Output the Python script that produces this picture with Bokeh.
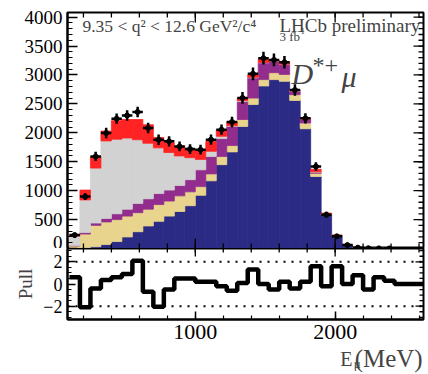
import numpy as np
from bokeh.plotting import figure
from bokeh.layouts import column
from bokeh.models import ColumnDataSource, Range1d, FixedTicker, Span, Label
from bokeh.embed import file_html
from bokeh.resources import INLINE

# ---------------- data ----------------
bin_start = 100.0      # MeV, lower edge of first bin
bin_width = 75.0       # MeV
n_bins = 34

# stacked components (bottom -> top), events per bin
comp_blue = [5, 15, 30, 70, 120, 200, 290, 390, 470, 560, 640, 740, 920, 1170, 1450, 1670, 2110,
             2490, 2810, 2920, 2890, 2560, 2070, 1245, 580, 220, 66, 16, 5, 2, 1, 0, 0, 0]
comp_khaki = [40, 235, 370, 390, 380, 360, 330, 290, 290, 260, 270, 240, 150, 120, 140, 110, 120,
              110, 110, 120, 120, 100, 100, 55, 15, 5, 2, 1, 0, 0, 0, 0, 0, 0]
comp_purple = [5, 25, 40, 60, 100, 120, 160, 180, 190, 190, 180, 210, 290, 300, 310, 330, 310,
               350, 290, 200, 170, 60, 60, 20, 10, 3, 1, 0, 0, 0, 0, 0, 0, 0]
comp_grey = [165, 565, 950, 1340, 1290, 1230, 1100, 960, 790, 650, 510, 380, 180, 90, 40, 10, 15,
             10, 5, 5, 5, 5, 5, 5, 2, 1, 0, 0, 0, 0, 0, 0, 0, 0]
comp_red = [20, 170, 200, 170, 320, 320, 350, 320, 180, 170, 170, 150, 160, 170, 110, 70, 45,
            40, 55, 15, 35, 15, 15, 45, 3, 1, 1, 0, 0, 0, 0, 0, 0, 0]

data_counts = [232, 897, 1592, 1997, 2245, 2300, 2360, 2084, 1881, 1852, 1765, 1719, 1708, 1882,
               2055, 2187, 2604, 3020, 3290, 3260, 3220, 2740, 2250, 1418, 585, 210, 59, 15, 5, 2,
               1, 0, 0, 0]
data_err = [40, 60, 80, 90, 90, 90, 90, 90, 90, 90, 85, 85, 85, 90, 90, 90, 100, 110, 110, 110,
            110, 100, 90, 75, 50, 30, 15, 8, 5, 3, 2, 0, 0, 0]

pulls = [0.6, -2.1, -0.4, 0.35, 0.6, 0.9, 2.1, -0.7, -2.05, -0.5, 0.5, 0.5, 0.2, 0.2, -0.2, -0.6,
         0.1, 1.3, 0.0, -0.5, 0.2, -0.4, 0.2, 1.6, -0.2, 1.6, 0.0, 0.8, -0.5, 0.6, 0.3, 0.0, 0.0, 0.0]

y_ticks = [0, 500, 1000, 1500, 2000, 2500, 3000, 3500, 4000]
y_minor = list(range(0, 4100, 100))
x_ticks = [1000, 2000]
x_minor = list(range(200, 2700, 200))
pull_ticks = [-2, 0, 2]
pull_minor = [v / 2 for v in range(-6, 7)]

colors = ["#2b2b86", "#e8d48c", "#922d8e", "#d2d2d2", "#ff2323"]

# ---------------- helpers ----------------
edges = bin_start + bin_width * np.arange(n_bins + 1)
left = edges[:-1]
right = edges[1:]
centers = 0.5 * (left + right)

X0, X1 = 86, 2632
Y_TOP = 4080
P_LO, P_HI = -3.2, 3.2
SERIF = "Liberation Serif"

common = dict(output_backend="svg", toolbar_location=None, x_range=Range1d(X0, X1),
              width=428, min_border_left=67, min_border_right=5)


def frame_style(fig):
    fig.grid.visible = False
    fig.background_fill_color = "white"
    fig.border_fill_color = "white"
    fig.outline_line_color = "black"
    fig.outline_line_width = 2


def style_axis(ax, ticks, minor, tin, tmin, fs):
    ax.ticker = FixedTicker(ticks=ticks, minor_ticks=minor)
    ax.major_tick_in = tin
    ax.major_tick_out = 0
    ax.minor_tick_in = tmin
    ax.minor_tick_out = 0
    ax.axis_line_color = "black"
    ax.axis_line_width = 2
    ax.major_tick_line_width = 1.5
    ax.minor_tick_line_width = 1.2
    ax.major_label_text_font = SERIF
    ax.major_label_text_font_size = fs
    ax.major_label_text_color = "black"
    ax.major_label_standoff = 5


def inward_ticks(fig, xs, ys, angle, length):
    fig.ray(x=xs, y=ys, length=length, length_units="screen", angle=angle,
            angle_units="deg", line_color="black", line_width=1.3)


def text(fig, x, y, s, size, align="left", style="normal"):
    fig.add_layout(Label(x=x, y=y, text=s, text_font=SERIF, text_font_size=size,
                         text_font_style=style, text_baseline="middle", text_align=align))

# ---------------- top panel ----------------
p = figure(height=248, y_range=Range1d(0, Y_TOP), min_border_top=12, min_border_bottom=0,
           **common)
frame_style(p)
p.xaxis.visible = False

bottoms = np.zeros(n_bins)
for comp, col in zip([comp_blue, comp_khaki, comp_purple, comp_grey, comp_red], colors):
    tops = bottoms + np.array(comp, dtype=float)
    src = ColumnDataSource(dict(left=left, right=right, bottom=bottoms.copy(), top=tops))
    p.quad(left="left", right="right", bottom="bottom", top="top", source=src,
           fill_color=col, line_color=col, line_width=0.8)
    bottoms = tops

d = np.array(data_counts, dtype=float)
e = np.array(data_err, dtype=float)
mask = d > 0
dsrc = ColumnDataSource(dict(l=left[mask], r=right[mask], c=centers[mask], y=d[mask],
                             lo=(d - e)[mask], hi=(d + e)[mask]))
p.segment(x0="l", x1="r", y0="y", y1="y", source=dsrc, line_color="black", line_width=2.5)
p.segment(x0="c", x1="c", y0="lo", y1="hi", source=dsrc, line_color="black", line_width=2.5)
p.scatter(x="c", y="y", source=dsrc, size=5, color="black")

style_axis(p.yaxis[0], y_ticks, y_minor, 10, 5, "19px")
inward_ticks(p, x_minor, [0] * len(x_minor), 90, 5)
inward_ticks(p, x_ticks, [0] * len(x_ticks), 90, 10)
inward_ticks(p, x_minor, [Y_TOP] * len(x_minor), -90, 5)
inward_ticks(p, x_ticks, [Y_TOP] * len(x_ticks), -90, 10)
inward_ticks(p, [X1] * len(y_minor), y_minor, 180, 5)
inward_ticks(p, [X1] * len(y_ticks), y_ticks, 180, 10)

# texts
text(p, 193, 3855, "9.35 < q² < 12.6 GeV²/c⁴", "17.5px")
text(p, 1602, 3855, "LHCb preliminary", "19px")
text(p, 1602, 3665, "3 fb", "13px")
text(p, 1731, 3760, "-1", "9px")
text(p, 1688, 3034, "D", "30px", style="italic")
text(p, 1838, 3164, "*+", "24px")
text(p, 2046, 2973, "μ", "30px", style="italic")

# ---------------- pull panel ----------------
pb = figure(height=100, y_range=Range1d(P_LO, P_HI), min_border_top=0, min_border_bottom=29,
            **common)
frame_style(pb)

for lev in (2, -2):
    pb.add_layout(Span(location=lev, dimension="width", line_color="black",
                       line_dash="2 6", line_width=2))

pull_y = np.append(np.array(pulls, dtype=float), pulls[-1])
pb.step(x=edges, y=pull_y, mode="after", line_color="black", line_width=4.5)

style_axis(pb.yaxis[0], pull_ticks, pull_minor, 8, 4, "18px")
pb.yaxis[0].axis_label = "Pull"
pb.yaxis[0].axis_label_text_font = SERIF
pb.yaxis[0].axis_label_text_font_style = "normal"
pb.yaxis[0].axis_label_text_font_size = "19px"
pb.yaxis[0].axis_label_standoff = 4
style_axis(pb.xaxis[0], x_ticks, x_minor, 8, 4, "22px")
pb.xaxis[0].major_label_standoff = 5
inward_ticks(pb, x_minor, [P_HI] * len(x_minor), -90, 4)
inward_ticks(pb, x_ticks, [P_HI] * len(x_ticks), -90, 8)
inward_ticks(pb, [X1] * len(pull_minor), pull_minor, 180, 4)
inward_ticks(pb, [X1] * len(pull_ticks), pull_ticks, 180, 8)

# ---------------- x-axis title strip: E_mu (MeV) ----------------
pt = figure(width=428, height=26, x_range=Range1d(0, 428), y_range=Range1d(0, 26),
            output_backend="svg", toolbar_location=None,
            min_border_left=0, min_border_right=0, min_border_top=0, min_border_bottom=0)
pt.axis.visible = False
pt.grid.visible = False
pt.outline_line_color = None
pt.background_fill_color = "white"
pt.border_fill_color = "white"
text(pt, 328, 16, "E", "20px")
text(pt, 344, 11, "μ", "13px")
text(pt, 427, 16, "(MeV)", "25px", align="right")

layout = column(p, pb, pt, spacing=0)
open("out.html", "w").write(file_html(layout, INLINE))
